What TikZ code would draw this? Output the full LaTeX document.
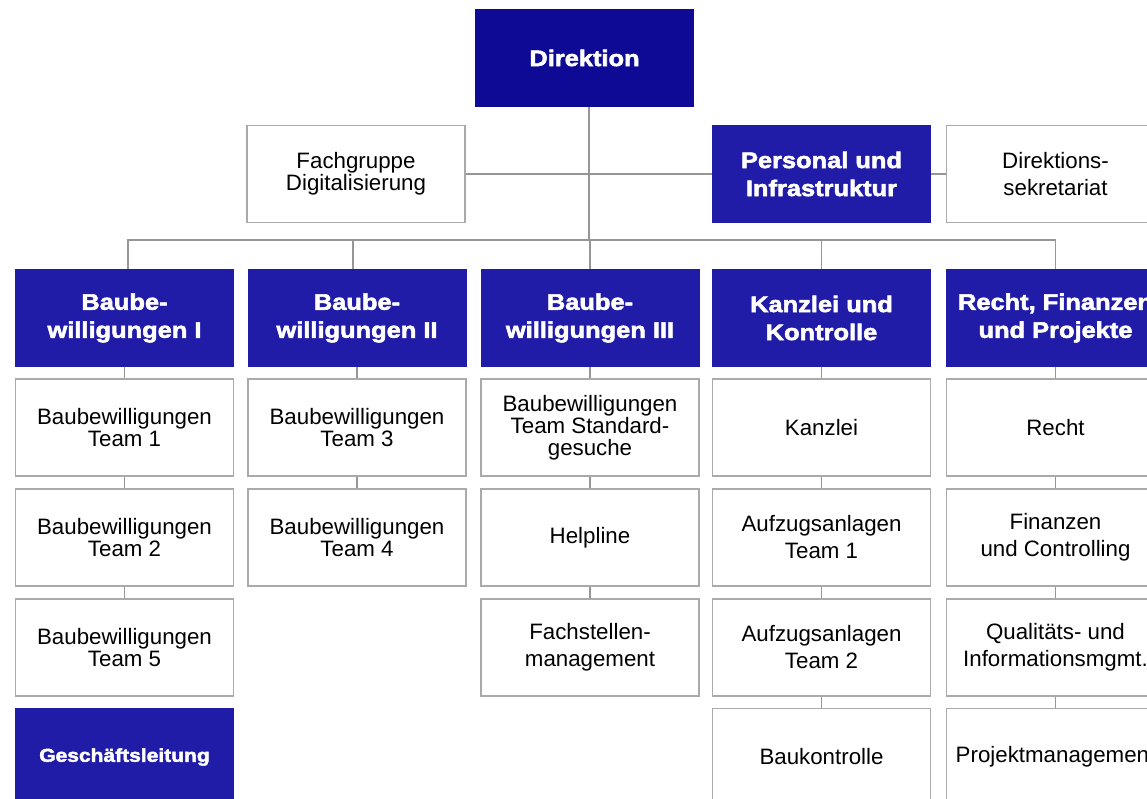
\documentclass[tikz,border=0pt]{standalone}
\usepackage{fontspec}
\setmainfont{Liberation Sans}
\newfontfamily\blk{Liberation Sans}[UprightFont=* Bold, FakeStretch=1.13, FakeBold=2.5]
\definecolor{dirblue}{RGB}{14,10,150}
\definecolor{hblue}{RGB}{32,28,168}
\definecolor{boxgray}{RGB}{170,170,170}
\definecolor{linegray}{RGB}{150,150,150}
\begin{document}
\begin{tikzpicture}[x=1pt,y=-1pt,
  wbox/.style={draw=boxgray, line width=1.3pt, fill=white, minimum width=218pt, minimum height=97pt, align=center, inner sep=0pt, font=\fontsize{22.3}{22}\selectfont},
  wboxl/.style={wbox, font=\fontsize{22.3}{27}\selectfont},
  bbox/.style={fill=hblue, text=white, minimum width=219pt, minimum height=98pt, align=center, inner sep=0pt, font=\blk\fontsize{22.5}{28}\selectfont},
  conn/.style={draw=linegray, line width=1.2pt}]
\useasboundingbox (0,0) rectangle (1147,798);
\clip (0,0) rectangle (1147,798);
\fill[white] (0,0) rectangle (1147,798);

% top
\node[bbox, fill=dirblue] (dir) at (584.5,58) {Direktion};
\node[wbox] (fg) at (356,174) {Fachgruppe\\Digitalisierung};
\node[bbox] (pers) at (821.5,174) {Personal und\\Infrastruktur};
\node[wboxl] (sek) at (1055.5,174) {Direktions-\\sekretariat};

% headers
\node[bbox] (h1) at (124.5,318) {Baube-\\willigungen I};
\node[bbox] (h2) at (357,318) {Baube-\\willigungen II};
\node[bbox] (h3) at (590,318) {Baube-\\willigungen III};
\node[bbox] (h4) at (821.5,318) {Kanzlei und\\Kontrolle};
\node[bbox] (h5) at (1055.5,318) {Recht, Finanzen\\und Projekte};

% column 1
\node[wbox] (a1) at (124.5,427.5) {Baubewilligungen\\Team 1};
\node[wbox] (a2) at (124.5,537.5) {Baubewilligungen\\Team 2};
\node[wbox] (a3) at (124.5,647.5) {Baubewilligungen\\Team 5};
\node[bbox, font=\blk\fontsize{18.6}{22}\selectfont] (a4) at (124.5,757) {Geschäftsleitung};

% column 2
\node[wbox] (b1) at (357,427.5) {Baubewilligungen\\Team 3};
\node[wbox] (b2) at (357,537.5) {Baubewilligungen\\Team 4};

% column 3
\node[wbox] (c1) at (590,427.5) {Baubewilligungen\\Team Standard-\\gesuche};
\node[wboxl] (c2) at (590,537.5) {Helpline};
\node[wboxl] (c3) at (590,647.5) {Fachstellen-\\management};

% column 4
\node[wboxl] (d1) at (821.5,427.5) {Kanzlei};
\node[wboxl] (d2) at (821.5,537.5) {Aufzugsanlagen\\Team 1};
\node[wboxl] (d3) at (821.5,647.5) {Aufzugsanlagen\\Team 2};
\node[wboxl] (d4) at (821.5,757) {Baukontrolle};

% column 5
\node[wboxl] (e1) at (1055.5,427.5) {Recht};
\node[wboxl] (e2) at (1055.5,537.5) {Finanzen\\und Controlling};
\node[wboxl] (e3) at (1055.5,647.5) {Qualitäts- und\\Informationsmgmt.};
\node[wboxl] (e4) at (1055.5,757) {Projektmanagement};

% connectors
\coordinate (bus) at (589,240);
\draw[conn] ([xshift=4.5pt]dir.south) -- (bus);
\draw[conn] (fg.east) -- (pers.west);
\draw[conn] (pers.east) -- (sek.west);
\draw[conn] ([xshift=3.5pt]h1.north) |- (h5.north |- bus) -- (h5.north);
\draw[conn] ([xshift=-4pt]h2.north) -- ([xshift=-4pt]h2.north |- bus);
\draw[conn] (h3.north) -- (h3.north |- bus);
\draw[conn] (h4.north) -- (h4.north |- bus);

\draw[conn] (h1.south) -- (a1.north);
\draw[conn] (a1.south) -- (a2.north);
\draw[conn] (a2.south) -- (a3.north);
\draw[conn] (h2.south) -- (b1.north);
\draw[conn] (b1.south) -- (b2.north);
\draw[conn] (h3.south) -- (c1.north);
\draw[conn] (c1.south) -- (c2.north);
\draw[conn] (c2.south) -- (c3.north);
\draw[conn] (h4.south) -- (d1.north);
\draw[conn] (d1.south) -- (d2.north);
\draw[conn] (d2.south) -- (d3.north);
\draw[conn] (d3.south) -- (d4.north);
\draw[conn] (h5.south) -- (e1.north);
\draw[conn] (e1.south) -- (e2.north);
\draw[conn] (e2.south) -- (e3.north);
\draw[conn] (e3.south) -- (e4.north);
\end{tikzpicture}
\end{document}
